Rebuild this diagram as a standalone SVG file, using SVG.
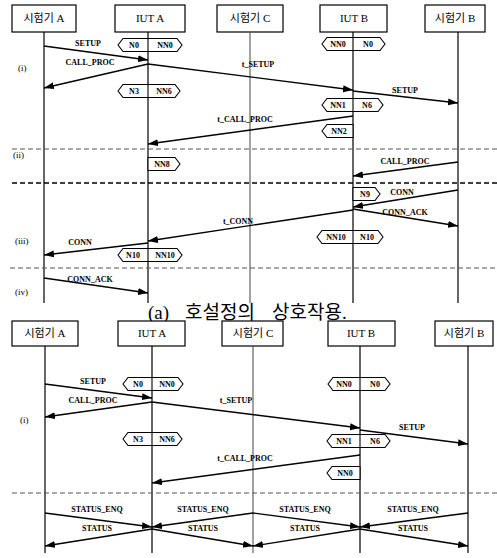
<svg xmlns="http://www.w3.org/2000/svg" width="497" height="558" viewBox="0 0 497 558">
<style>
.box{fill:#fff;stroke:#000;stroke-width:1.2}
.life{stroke:#000;stroke-width:1.2;fill:none}
.lifeg{stroke:#444;stroke-width:1;fill:none}
.msg{stroke:#000;stroke-width:1.3;fill:none;marker-end:url(#ah)}
.hex{fill:#fff;stroke:#000;stroke-width:1.1}
.div{stroke:#000;stroke-width:1.1}
.sepg{stroke:#555;stroke-width:1;stroke-dasharray:5 3;fill:none}
.sepb{stroke:#000;stroke-width:1.6;stroke-dasharray:5 3;fill:none}
.hd{font-family:"Liberation Serif","Noto Sans CJK KR",serif;font-size:11px;text-anchor:middle;fill:#000}
.lb{font-family:"Liberation Serif",serif;font-size:8px;font-weight:bold;text-anchor:middle;fill:#000}
.hx{font-family:"Liberation Serif",serif;font-size:8px;font-weight:bold;text-anchor:middle;fill:#000}
.sec{font-family:"Liberation Serif",serif;font-size:9px;fill:#000}
.cap{font-family:"Liberation Serif","Noto Sans CJK KR",serif;font-size:19px;fill:#000}
</style>
<defs>
<marker id="ah" markerUnits="userSpaceOnUse" markerWidth="11" markerHeight="8" refX="10" refY="3.5" orient="auto">
<path d="M0,0 L10,3.5 L0,7 z" fill="#000"/>
</marker>
</defs>

<!-- ===== Top diagram ===== -->
<g id="top-testerA"><rect class="box" x="12" y="5" width="64" height="27"/><text class="hd" x="44" y="22">시험기 A</text><line class="life" x1="44" y1="32" x2="44" y2="303"/></g>
<g id="top-iutA"><rect class="box" x="115" y="5" width="70" height="27"/><text class="hd" x="150" y="22">IUT A</text><line class="life" x1="148" y1="32" x2="148" y2="303"/></g>
<g id="top-testerC"><rect class="box" x="217" y="5" width="66" height="27"/><text class="hd" x="250" y="22">시험기 C</text><line class="lifeg" x1="250" y1="32" x2="250" y2="303"/></g>
<g id="top-iutB"><rect class="box" x="320" y="5" width="67" height="27"/><text class="hd" x="354" y="22">IUT B</text><line class="life" x1="353" y1="32" x2="353" y2="303"/></g>
<g id="top-testerB"><rect class="box" x="425" y="5" width="60" height="27"/><text class="hd" x="455" y="22">시험기 B</text><line class="life" x1="458" y1="32" x2="458" y2="303"/></g>

<g id="top-separators">
<line class="sepg" x1="12" y1="149" x2="497" y2="149"/>
<line class="sepb" x1="12" y1="183" x2="497" y2="183"/>
<line class="sepg" x1="10" y1="268" x2="497" y2="268"/>
<text class="sec" x="18" y="71">(i)</text>
<text class="sec" x="13" y="158">(ii)</text>
<text class="sec" x="15" y="244">(iii)</text>
<text class="sec" x="15" y="295">(iv)</text>
</g>

<g id="top-hex-N0">
<path class="hex" d="M118,45 L123,38.5 L177,38.5 L182,45 L177,51.5 L123,51.5 Z"/><line class="div" x1="148" y1="38.5" x2="148" y2="51.5"/>
<text class="hx" x="134" y="48">N0</text><text class="hx" x="165" y="48">NN0</text></g>
<g id="top-hex-NN0">
<path class="hex" d="M322,44 L327,37.5 L380,37.5 L385,44 L380,50.5 L327,50.5 Z"/><line class="div" x1="353" y1="37.5" x2="353" y2="50.5"/>
<text class="hx" x="338" y="47">NN0</text><text class="hx" x="368" y="47">N0</text></g>
<g id="top-hex-N3">
<path class="hex" d="M118,91 L123,84.5 L175,84.5 L180,91 L175,97.5 L123,97.5 Z"/><line class="div" x1="148" y1="84.5" x2="148" y2="97.5"/>
<text class="hx" x="134" y="94">N3</text><text class="hx" x="164" y="94">NN6</text></g>
<g id="top-hex-NN1">
<path class="hex" d="M322,105 L327,98.5 L378,98.5 L383,105 L378,111.5 L327,111.5 Z"/><line class="div" x1="353" y1="98.5" x2="353" y2="111.5"/>
<text class="hx" x="338" y="108">NN1</text><text class="hx" x="367" y="108">N6</text></g>
<g id="top-hex-NN2">
<path class="hex" d="M322,131 L327,124.5 L353,124.5 L353,137.5 L327,137.5 Z"/>
<text class="hx" x="339" y="134">NN2</text></g>
<g id="top-hex-NN8">
<path class="hex" d="M148,157.5 L175,157.5 L180,164 L175,170.5 L148,170.5 Z"/>
<text class="hx" x="162" y="167">NN8</text></g>
<g id="top-hex-N9">
<path class="hex" d="M353,187.5 L375,187.5 L380,194 L375,200.5 L353,200.5 Z"/>
<text class="hx" x="365" y="197">N9</text></g>
<g id="top-hex-NN10">
<path class="hex" d="M317,237 L322,230.5 L378,230.5 L383,237 L378,243.5 L322,243.5 Z"/><line class="div" x1="353" y1="230.5" x2="353" y2="243.5"/>
<text class="hx" x="336" y="240">NN10</text><text class="hx" x="367" y="240">N10</text></g>
<g id="top-hex-N10">
<path class="hex" d="M118,255 L123,248.5 L177,248.5 L182,255 L177,261.5 L123,261.5 Z"/><line class="div" x1="148" y1="248.5" x2="148" y2="261.5"/>
<text class="hx" x="133" y="258">N10</text><text class="hx" x="165" y="258">NN10</text></g>

<g id="top-connectors">
<line class="msg" x1="44" y1="46" x2="148" y2="60"/><text class="lb" x="88" y="46">SETUP</text>
<line class="msg" x1="148" y1="64" x2="44" y2="88"/><text class="lb" x="90" y="65">CALL_PROC</text>
<line class="msg" x1="148" y1="64" x2="353" y2="90"/><text class="lb" x="258" y="67">t_SETUP</text>
<line class="msg" x1="353" y1="91" x2="458" y2="103"/><text class="lb" x="405" y="93">SETUP</text>
<line class="msg" x1="353" y1="116" x2="148" y2="144"/><text class="lb" x="245" y="122">t_CALL_PROC</text>
<line class="msg" x1="458" y1="162" x2="353" y2="176"/><text class="lb" x="405" y="164">CALL_PROC</text>
<line class="msg" x1="458" y1="190" x2="353" y2="207"/><text class="lb" x="402" y="195">CONN</text>
<line class="msg" x1="353" y1="209" x2="458" y2="226"/><text class="lb" x="405" y="215">CONN_ACK</text>
<line class="msg" x1="353" y1="210" x2="148" y2="241"/><text class="lb" x="238" y="224">t_CONN</text>
<line class="msg" x1="148" y1="243" x2="44" y2="255"/><text class="lb" x="80" y="245">CONN</text>
<line class="msg" x1="44" y1="278" x2="148" y2="293"/><text class="lb" x="90" y="282">CONN_ACK</text>
</g>

<text class="cap" x="148" y="319">(a)<tspan x="185">호설정의</tspan><tspan x="272">상호작용.</tspan></text>

<!-- ===== Bottom diagram ===== -->
<g id="bot-testerA"><rect class="box" x="12" y="321" width="66" height="25"/><text class="hd" x="45" y="337">시험기 A</text><line class="life" x1="45" y1="346" x2="45" y2="553"/></g>
<g id="bot-iutA"><rect class="box" x="118" y="321" width="67" height="25"/><text class="hd" x="152" y="337">IUT A</text><line class="life" x1="152" y1="346" x2="152" y2="553"/></g>
<g id="bot-testerC"><rect class="box" x="222" y="321" width="61" height="25"/><text class="hd" x="253" y="337">시험기 C</text><line class="lifeg" x1="253" y1="346" x2="253" y2="553"/></g>
<g id="bot-iutB"><rect class="box" x="328" y="321" width="67" height="25"/><text class="hd" x="361" y="337">IUT B</text><line class="life" x1="360" y1="346" x2="360" y2="553"/></g>
<g id="bot-testerB"><rect class="box" x="435" y="321" width="58" height="25"/><text class="hd" x="464" y="337">시험기 B</text><line class="life" x1="468" y1="346" x2="468" y2="553"/></g>

<g id="bot-separators">
<line class="sepg" x1="12" y1="493" x2="497" y2="493"/>
<text class="sec" x="20" y="423">(i)</text>
</g>

<g id="bot-hex-N0">
<path class="hex" d="M123,384 L128,377.5 L178,377.5 L183,384 L178,390.5 L128,390.5 Z"/><line class="div" x1="152" y1="377.5" x2="152" y2="390.5"/>
<text class="hx" x="138" y="387">N0</text><text class="hx" x="167" y="387">NN0</text></g>
<g id="bot-hex-NN0">
<path class="hex" d="M328,384 L333,377.5 L385,377.5 L390,384 L385,390.5 L333,390.5 Z"/><line class="div" x1="360" y1="377.5" x2="360" y2="390.5"/>
<text class="hx" x="344" y="387">NN0</text><text class="hx" x="375" y="387">N0</text></g>
<g id="bot-hex-N3">
<path class="hex" d="M123,439 L128,432.5 L177,432.5 L182,439 L177,445.5 L128,445.5 Z"/><line class="div" x1="152" y1="432.5" x2="152" y2="445.5"/>
<text class="hx" x="138" y="442">N3</text><text class="hx" x="167" y="442">NN6</text></g>
<g id="bot-hex-NN1">
<path class="hex" d="M327,441 L332,434.5 L385,434.5 L390,441 L385,447.5 L332,447.5 Z"/><line class="div" x1="360" y1="434.5" x2="360" y2="447.5"/>
<text class="hx" x="344" y="444">NN1</text><text class="hx" x="375" y="444">N6</text></g>
<g id="bot-hex-NN2">
<path class="hex" d="M327,473 L332,466.5 L360,466.5 L360,479.5 L332,479.5 Z"/>
<text class="hx" x="345" y="476">NN0</text></g>

<g id="bot-connectors">
<line class="msg" x1="45" y1="384" x2="152" y2="398"/><text class="lb" x="93" y="384">SETUP</text>
<line class="msg" x1="152" y1="402" x2="45" y2="417"/><text class="lb" x="93" y="403">CALL_PROC</text>
<line class="msg" x1="152" y1="402" x2="360" y2="428"/><text class="lb" x="236" y="403">t_SETUP</text>
<line class="msg" x1="360" y1="430" x2="468" y2="444"/><text class="lb" x="412" y="430">SETUP</text>
<line class="msg" x1="360" y1="455" x2="152" y2="483"/><text class="lb" x="245" y="461">t_CALL_PROC</text>
<line class="msg" x1="45" y1="513" x2="152" y2="527"/><text class="lb" x="97" y="512">STATUS_ENQ</text>
<line class="msg" x1="253" y1="513" x2="152" y2="527"/><text class="lb" x="203" y="512">STATUS_ENQ</text>
<line class="msg" x1="253" y1="513" x2="360" y2="527"/><text class="lb" x="305" y="512">STATUS_ENQ</text>
<line class="msg" x1="468" y1="513" x2="360" y2="527"/><text class="lb" x="413" y="512">STATUS_ENQ</text>
<line class="msg" x1="152" y1="529" x2="45" y2="546"/><text class="lb" x="97" y="531">STATUS</text>
<line class="msg" x1="152" y1="529" x2="253" y2="546"/><text class="lb" x="203" y="531">STATUS</text>
<line class="msg" x1="360" y1="529" x2="253" y2="546"/><text class="lb" x="305" y="531">STATUS</text>
<line class="msg" x1="360" y1="529" x2="468" y2="546"/><text class="lb" x="413" y="531">STATUS</text>
</g>
</svg>
